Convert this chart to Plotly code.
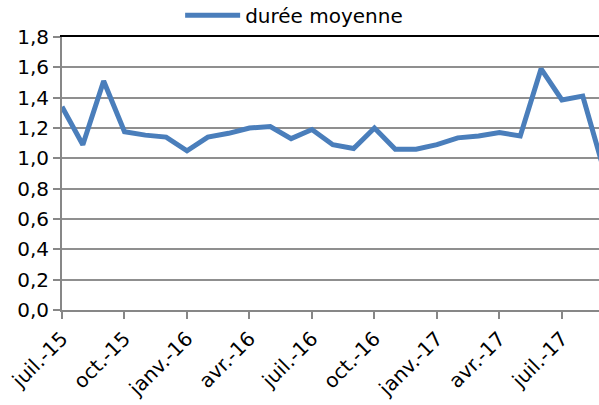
import plotly.graph_objects as go

months = ["juil.-15", "août-15", "sept.-15", "oct.-15", "nov.-15", "déc.-15",
          "janv.-16", "févr.-16", "mars-16", "avr.-16", "mai-16", "juin-16",
          "juil.-16", "août-16", "sept.-16", "oct.-16", "nov.-16", "déc.-16",
          "janv.-17", "févr.-17", "mars-17", "avr.-17", "mai-17", "juin-17",
          "juil.-17", "août-17", "sept.-17"]
duree_moyenne = [1.34, 1.09, 1.51, 1.175, 1.153, 1.14,
                 1.05, 1.14, 1.165, 1.2, 1.21, 1.13,
                 1.19, 1.09, 1.065, 1.2, 1.06, 1.06,
                 1.09, 1.135, 1.147, 1.17, 1.147, 1.59,
                 1.385, 1.41, 0.93]
tick_labels = months[::3]

font_family = "DejaVu Sans, Arial, sans-serif"

fig = go.Figure()
fig.add_trace(go.Scatter(
    x=months, y=duree_moyenne, mode="lines", name="durée moyenne",
    line=dict(color="#4A7EBB", width=5),
))

fig.update_layout(
    width=599, height=405,
    margin=dict(l=62, r=0, t=37, b=95, autoexpand=False),
    paper_bgcolor="white", plot_bgcolor="white",
    separators=", ",
    font=dict(family=font_family, size=20, color="#000000"),
    showlegend=True,
    legend=dict(orientation="h", x=0.22, xanchor="left", y=1.08, yanchor="middle",
                font=dict(size=20), itemwidth=55,
                bgcolor="rgba(0,0,0,0)"),
    xaxis=dict(
        type="category", range=[0, 25.78], automargin=False,
        tickmode="array", tickvals=tick_labels, ticktext=tick_labels,
        tickangle=-45, showgrid=False,
        showline=True, linecolor="#878787", linewidth=2,
        ticks="outside", ticklen=7, tickcolor="#878787", tickwidth=2,
        tickfont=dict(size=20),
    ),
    yaxis=dict(
        range=[0, 1.8], dtick=0.2, tickformat=".1f", automargin=False,
        showgrid=True, gridcolor="#8F8F8F", gridwidth=1.5,
        showline=True, linecolor="#878787", linewidth=2,
        ticks="outside", ticklen=7, tickcolor="#878787", tickwidth=2,
        tickfont=dict(size=20), zeroline=False,
    ),
    xaxis2=dict(overlaying="x", side="top", showline=True, linecolor="#000000",
                linewidth=2, showticklabels=False, ticks="", showgrid=False,
                range=[0, 1], automargin=False),
)
fig.add_trace(go.Scatter(x=[None], y=[None], xaxis="x2", showlegend=False, hoverinfo="skip"))

fig.write_html("out.html", config={"displayModeBar": False},
               post_script="document.body.style.margin='0';")
